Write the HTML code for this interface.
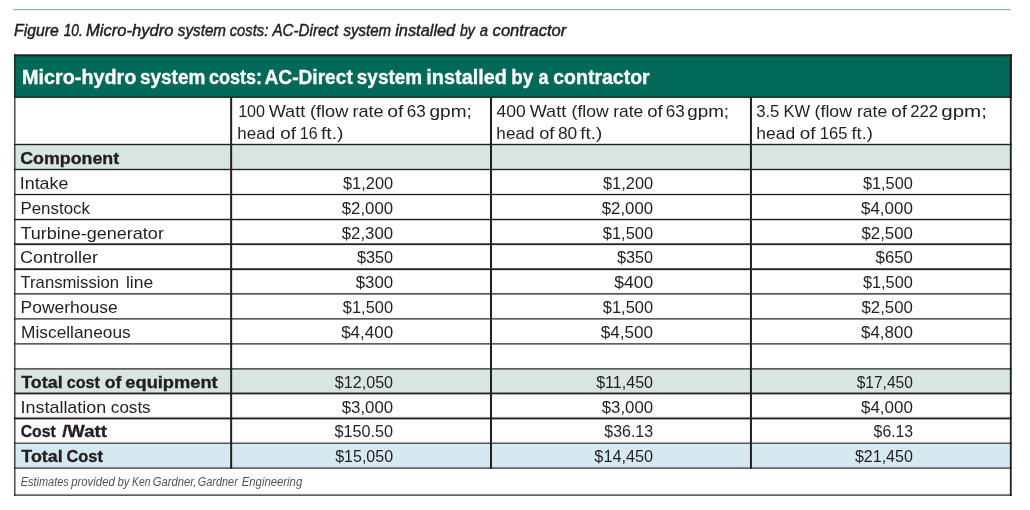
<!DOCTYPE html>
<html lang="en">
<head>
<meta charset="utf-8">
<title>Figure 10. Micro-hydro system costs: AC-Direct system installed by a contractor</title>
<style>
html,body{margin:0;padding:0;background:#fff;}
body{width:1030px;height:510px;overflow:hidden;}
svg{display:block;position:absolute;left:0;top:0;}
text{font-family:"Liberation Sans",Arial,sans-serif;font-size:17px;fill:#231f20;white-space:pre;}
text.b{font-weight:bold;}
text.i{font-style:italic;}
</style>
</head>
<body>
<svg width="1030" height="510" viewBox="0 0 1030 510">
<rect x="13.4" y="9" width="997.2" height="1.15" fill="#7db3a8"/>
<rect x="14" y="55" width="998" height="42.2" fill="#006957"/>
<rect x="14" y="144.5" width="998" height="25.00" fill="#d8e6e1"/>
<rect x="14" y="368.9" width="998" height="24.55" fill="#d8e6e1"/>
<rect x="14" y="443.15" width="998" height="24.95" fill="#d6e8f0"/>
<rect x="14" y="54" width="998" height="1" fill="#231f20" fill-opacity="0.7"/>
<rect x="14" y="55" width="998" height="1" fill="#231f20" fill-opacity="1"/>
<rect x="14" y="56" width="998" height="1" fill="#231f20" fill-opacity="0.3"/>
<rect x="14" y="96" width="998" height="1" fill="#231f20" fill-opacity="0.5"/>
<rect x="14" y="97" width="998" height="1" fill="#231f20" fill-opacity="0.9"/>
<rect x="14" y="98" width="998" height="1" fill="#231f20" fill-opacity="0.05"/>
<rect x="14" y="143" width="998" height="1" fill="#231f20" fill-opacity="0.2"/>
<rect x="14" y="144" width="998" height="1" fill="#231f20" fill-opacity="1"/>
<rect x="14" y="145" width="998" height="1" fill="#231f20" fill-opacity="0.2"/>
<rect x="14" y="168" width="998" height="1" fill="#231f20" fill-opacity="0.2"/>
<rect x="14" y="169" width="998" height="1" fill="#231f20" fill-opacity="1"/>
<rect x="14" y="170" width="998" height="1" fill="#231f20" fill-opacity="0.2"/>
<rect x="14" y="193" width="998" height="1" fill="#231f20" fill-opacity="0.15"/>
<rect x="14" y="194" width="998" height="1" fill="#231f20" fill-opacity="1"/>
<rect x="14" y="195" width="998" height="1" fill="#231f20" fill-opacity="0.17"/>
<rect x="14" y="218" width="998" height="1" fill="#231f20" fill-opacity="0.2"/>
<rect x="14" y="219" width="998" height="1" fill="#231f20" fill-opacity="1"/>
<rect x="14" y="220" width="998" height="1" fill="#231f20" fill-opacity="0.25"/>
<rect x="14" y="243" width="998" height="1" fill="#231f20" fill-opacity="0.7"/>
<rect x="14" y="244" width="998" height="1" fill="#231f20" fill-opacity="1"/>
<rect x="14" y="245" width="998" height="1" fill="#231f20" fill-opacity="0.1"/>
<rect x="14" y="268" width="998" height="1" fill="#231f20" fill-opacity="0.75"/>
<rect x="14" y="269" width="998" height="1" fill="#231f20" fill-opacity="1"/>
<rect x="14" y="270" width="998" height="1" fill="#231f20" fill-opacity="0.15"/>
<rect x="14" y="292" width="998" height="1" fill="#231f20" fill-opacity="0.05"/>
<rect x="14" y="293" width="998" height="1" fill="#231f20" fill-opacity="0.72"/>
<rect x="14" y="294" width="998" height="1" fill="#231f20" fill-opacity="0.55"/>
<rect x="14" y="317" width="998" height="1" fill="#231f20" fill-opacity="0.03"/>
<rect x="14" y="318" width="998" height="1" fill="#231f20" fill-opacity="0.72"/>
<rect x="14" y="319" width="998" height="1" fill="#231f20" fill-opacity="0.5"/>
<rect x="14" y="343" width="998" height="1" fill="#231f20" fill-opacity="0.72"/>
<rect x="14" y="344" width="998" height="1" fill="#231f20" fill-opacity="0.5"/>
<rect x="14" y="367" width="998" height="1" fill="#231f20" fill-opacity="0.03"/>
<rect x="14" y="368" width="998" height="1" fill="#231f20" fill-opacity="0.72"/>
<rect x="14" y="369" width="998" height="1" fill="#231f20" fill-opacity="0.5"/>
<rect x="14" y="392" width="998" height="1" fill="#231f20" fill-opacity="0.45"/>
<rect x="14" y="393" width="998" height="1" fill="#231f20" fill-opacity="1"/>
<rect x="14" y="394" width="998" height="1" fill="#231f20" fill-opacity="0.35"/>
<rect x="14" y="416" width="998" height="1" fill="#231f20" fill-opacity="0.05"/>
<rect x="14" y="417" width="998" height="1" fill="#231f20" fill-opacity="0.5"/>
<rect x="14" y="418" width="998" height="1" fill="#231f20" fill-opacity="1"/>
<rect x="14" y="419" width="998" height="1" fill="#231f20" fill-opacity="0.4"/>
<rect x="14" y="442" width="998" height="1" fill="#231f20" fill-opacity="0.4"/>
<rect x="14" y="443" width="998" height="1" fill="#231f20" fill-opacity="0.72"/>
<rect x="14" y="466" width="998" height="1" fill="#231f20" fill-opacity="0.05"/>
<rect x="14" y="467" width="998" height="1" fill="#231f20" fill-opacity="0.45"/>
<rect x="14" y="468" width="998" height="1" fill="#231f20" fill-opacity="0.7"/>
<rect x="14" y="493" width="998" height="1" fill="#231f20" fill-opacity="0.05"/>
<rect x="14" y="494" width="998" height="1" fill="#231f20" fill-opacity="0.5"/>
<rect x="14" y="495" width="998" height="1" fill="#231f20" fill-opacity="0.72"/>
<line x1="231.15" y1="97" x2="231.15" y2="468.6" stroke="#231f20" stroke-width="2"/>
<line x1="491.0" y1="97" x2="491.0" y2="468.6" stroke="#231f20" stroke-width="2"/>
<line x1="750.95" y1="97" x2="750.95" y2="468.6" stroke="#231f20" stroke-width="2"/>
<rect x="13" y="54" width="1" height="442" fill="#231f20" fill-opacity="0.05"/>
<rect x="14" y="54" width="1" height="442" fill="#231f20" fill-opacity="0.75"/>
<rect x="15" y="54" width="1" height="442" fill="#231f20" fill-opacity="0.45"/>
<rect x="1009" y="54" width="1" height="442" fill="#231f20" fill-opacity="0.15"/>
<rect x="1010" y="54" width="1" height="442" fill="#231f20" fill-opacity="1"/>
<rect x="1011" y="54" width="1" height="442" fill="#231f20" fill-opacity="0.7"/>
<text y="35.80" class="i" style="font-size:16px;stroke:#231f20;stroke-width:0.45px;"><tspan x="14.04" textLength="44.71" lengthAdjust="spacingAndGlyphs">Figure</tspan> <tspan x="63.74" textLength="19.06" lengthAdjust="spacingAndGlyphs">10.</tspan> <tspan x="86.10" textLength="87.30" lengthAdjust="spacingAndGlyphs">Micro-hydro</tspan> <tspan x="177.80" textLength="48.26" lengthAdjust="spacingAndGlyphs">system</tspan> <tspan x="229.75" textLength="38.51" lengthAdjust="spacingAndGlyphs">costs:</tspan> <tspan x="272.45" textLength="65.78" lengthAdjust="spacingAndGlyphs">AC-Direct</tspan> <tspan x="343.45" textLength="47.61" lengthAdjust="spacingAndGlyphs">system</tspan> <tspan x="395.20" textLength="60.03" lengthAdjust="spacingAndGlyphs">installed</tspan> <tspan x="460.00" textLength="14.82" lengthAdjust="spacingAndGlyphs">by</tspan> <tspan x="479.73" textLength="8.27" lengthAdjust="spacingAndGlyphs">a</tspan> <tspan x="492.60" textLength="73.75" lengthAdjust="spacingAndGlyphs">contractor</tspan></text>
<text y="83.80" class="b" style="font-size:20px;fill:#fff;stroke:#fff;stroke-width:0.35px;"><tspan x="22.05" textLength="114.27" lengthAdjust="spacingAndGlyphs">Micro-hydro</tspan> <tspan x="139.97" textLength="65.39" lengthAdjust="spacingAndGlyphs">system</tspan> <tspan x="208.98" textLength="53.08" lengthAdjust="spacingAndGlyphs">costs:</tspan> <tspan x="264.54" textLength="88.25" lengthAdjust="spacingAndGlyphs">AC-Direct</tspan> <tspan x="356.83" textLength="65.23" lengthAdjust="spacingAndGlyphs">system</tspan> <tspan x="426.35" textLength="80.61" lengthAdjust="spacingAndGlyphs">installed</tspan> <tspan x="511.31" textLength="21.93" lengthAdjust="spacingAndGlyphs">by</tspan> <tspan x="538.42" textLength="10.00" lengthAdjust="spacingAndGlyphs">a</tspan> <tspan x="553.29" textLength="96.41" lengthAdjust="spacingAndGlyphs">contractor</tspan></text>
<text y="117.00" style="stroke:#fff;stroke-width:0px;paint-order:fill stroke;"><tspan x="238.14" textLength="26.89" lengthAdjust="spacingAndGlyphs">100</tspan> <tspan x="268.70" textLength="36.52" lengthAdjust="spacingAndGlyphs">Watt</tspan> <tspan x="309.93" textLength="38.36" lengthAdjust="spacingAndGlyphs">(flow</tspan> <tspan x="352.48" textLength="31.21" lengthAdjust="spacingAndGlyphs">rate</tspan> <tspan x="387.19" textLength="16.22" lengthAdjust="spacingAndGlyphs">of</tspan> <tspan x="406.70" textLength="18.98" lengthAdjust="spacingAndGlyphs">63</tspan> <tspan x="429.52" textLength="42.22" lengthAdjust="spacingAndGlyphs">gpm;</tspan></text>
<text y="139.00" style="stroke:#fff;stroke-width:0px;paint-order:fill stroke;"><tspan x="237.35" textLength="37.72" lengthAdjust="spacingAndGlyphs">head</tspan> <tspan x="280.19" textLength="15.73" lengthAdjust="spacingAndGlyphs">of</tspan> <tspan x="299.81" textLength="17.68" lengthAdjust="spacingAndGlyphs">16</tspan> <tspan x="320.94" textLength="22.53" lengthAdjust="spacingAndGlyphs">ft.)</tspan></text>
<text y="117.00" style="stroke:#fff;stroke-width:0px;paint-order:fill stroke;"><tspan x="496.49" textLength="29.24" lengthAdjust="spacingAndGlyphs">400</tspan> <tspan x="529.74" textLength="36.47" lengthAdjust="spacingAndGlyphs">Watt</tspan> <tspan x="571.61" textLength="37.06" lengthAdjust="spacingAndGlyphs">(flow</tspan> <tspan x="613.17" textLength="30.05" lengthAdjust="spacingAndGlyphs">rate</tspan> <tspan x="647.16" textLength="15.51" lengthAdjust="spacingAndGlyphs">of</tspan> <tspan x="665.70" textLength="19.02" lengthAdjust="spacingAndGlyphs">63</tspan> <tspan x="687.22" textLength="41.86" lengthAdjust="spacingAndGlyphs">gpm;</tspan></text>
<text y="139.00" style="stroke:#fff;stroke-width:0px;paint-order:fill stroke;"><tspan x="496.39" textLength="38.03" lengthAdjust="spacingAndGlyphs">head</tspan> <tspan x="539.16" textLength="15.17" lengthAdjust="spacingAndGlyphs">of</tspan> <tspan x="557.90" textLength="19.33" lengthAdjust="spacingAndGlyphs">80</tspan> <tspan x="580.39" textLength="21.85" lengthAdjust="spacingAndGlyphs">ft.)</tspan></text>
<text y="117.00" style="stroke:#fff;stroke-width:0px;paint-order:fill stroke;"><tspan x="756.21" textLength="23.16" lengthAdjust="spacingAndGlyphs">3.5</tspan> <tspan x="783.47" textLength="26.57" lengthAdjust="spacingAndGlyphs">KW</tspan> <tspan x="814.60" textLength="37.41" lengthAdjust="spacingAndGlyphs">(flow</tspan> <tspan x="856.97" textLength="30.25" lengthAdjust="spacingAndGlyphs">rate</tspan> <tspan x="891.20" textLength="15.76" lengthAdjust="spacingAndGlyphs">of</tspan> <tspan x="910.26" textLength="27.91" lengthAdjust="spacingAndGlyphs">222</tspan> <tspan x="941.26" textLength="45.66" lengthAdjust="spacingAndGlyphs">gpm;</tspan></text>
<text y="139.00" style="stroke:#fff;stroke-width:0px;paint-order:fill stroke;"><tspan x="756.37" textLength="38.71" lengthAdjust="spacingAndGlyphs">head</tspan> <tspan x="799.85" textLength="15.76" lengthAdjust="spacingAndGlyphs">of</tspan> <tspan x="819.77" textLength="27.63" lengthAdjust="spacingAndGlyphs">165</tspan> <tspan x="851.54" textLength="21.38" lengthAdjust="spacingAndGlyphs">ft.)</tspan></text>
<text y="164.00" class="b" style="stroke:#231f20;stroke-width:0.35px;"><tspan x="20.19" textLength="98.96" lengthAdjust="spacingAndGlyphs">Component</tspan></text>
<text y="189.00" style="stroke:#fff;stroke-width:0px;paint-order:fill stroke;"><tspan x="19.84" textLength="48.50" lengthAdjust="spacingAndGlyphs">Intake</tspan></text>
<text y="214.00" style="stroke:#fff;stroke-width:0px;paint-order:fill stroke;"><tspan x="20.45" textLength="69.56" lengthAdjust="spacingAndGlyphs">Penstock</tspan></text>
<text y="239.00" style="stroke:#fff;stroke-width:0px;paint-order:fill stroke;"><tspan x="20.45" textLength="143.45" lengthAdjust="spacingAndGlyphs">Turbine-generator</tspan></text>
<text y="263.00" style="stroke:#fff;stroke-width:0px;paint-order:fill stroke;"><tspan x="19.93" textLength="77.98" lengthAdjust="spacingAndGlyphs">Controller</tspan></text>
<text y="288.00" style="stroke:#fff;stroke-width:0px;paint-order:fill stroke;"><tspan x="20.50" textLength="98.46" lengthAdjust="spacingAndGlyphs">Transmission</tspan> <tspan x="125.97" textLength="27.25" lengthAdjust="spacingAndGlyphs">line</tspan></text>
<text y="313.00" style="stroke:#fff;stroke-width:0px;paint-order:fill stroke;"><tspan x="20.57" textLength="97.10" lengthAdjust="spacingAndGlyphs">Powerhouse</tspan></text>
<text y="338.00" style="stroke:#fff;stroke-width:0px;paint-order:fill stroke;"><tspan x="21.13" textLength="109.53" lengthAdjust="spacingAndGlyphs">Miscellaneous</tspan></text>
<text y="388.00" class="b" style="stroke:#231f20;stroke-width:0.35px;"><tspan x="21.30" textLength="41.31" lengthAdjust="spacingAndGlyphs">Total</tspan> <tspan x="66.79" textLength="33.10" lengthAdjust="spacingAndGlyphs">cost</tspan> <tspan x="104.67" textLength="16.59" lengthAdjust="spacingAndGlyphs">of</tspan> <tspan x="125.34" textLength="92.30" lengthAdjust="spacingAndGlyphs">equipment</tspan></text>
<text y="413.00" style="stroke:#fff;stroke-width:0px;paint-order:fill stroke;"><tspan x="20.49" textLength="85.80" lengthAdjust="spacingAndGlyphs">Installation</tspan> <tspan x="110.89" textLength="39.77" lengthAdjust="spacingAndGlyphs">costs</tspan></text>
<text y="437.00" class="b" style="stroke:#231f20;stroke-width:0.35px;"><tspan x="20.69" textLength="35.06" lengthAdjust="spacingAndGlyphs">Cost</tspan> <tspan x="62.20" textLength="44.64" lengthAdjust="spacingAndGlyphs">/Watt</tspan></text>
<text y="462.00" class="b" style="stroke:#231f20;stroke-width:0.35px;"><tspan x="21.30" textLength="41.36" lengthAdjust="spacingAndGlyphs">Total</tspan> <tspan x="66.49" textLength="36.39" lengthAdjust="spacingAndGlyphs">Cost</tspan></text>
<text x="343.00" y="189.00" textLength="50.10" lengthAdjust="spacingAndGlyphs" style="stroke:#fff;stroke-width:0px;paint-order:fill stroke;">$1,200</text>
<text x="603.00" y="189.00" textLength="50.10" lengthAdjust="spacingAndGlyphs" style="stroke:#fff;stroke-width:0px;paint-order:fill stroke;">$1,200</text>
<text x="862.90" y="189.00" textLength="49.99" lengthAdjust="spacingAndGlyphs" style="stroke:#fff;stroke-width:0px;paint-order:fill stroke;">$1,500</text>
<text x="341.70" y="214.00" textLength="51.41" lengthAdjust="spacingAndGlyphs" style="stroke:#fff;stroke-width:0px;paint-order:fill stroke;">$2,000</text>
<text x="601.70" y="214.00" textLength="51.41" lengthAdjust="spacingAndGlyphs" style="stroke:#fff;stroke-width:0px;paint-order:fill stroke;">$2,000</text>
<text x="860.95" y="214.00" textLength="51.96" lengthAdjust="spacingAndGlyphs" style="stroke:#fff;stroke-width:0px;paint-order:fill stroke;">$4,000</text>
<text x="341.70" y="239.00" textLength="51.41" lengthAdjust="spacingAndGlyphs" style="stroke:#fff;stroke-width:0px;paint-order:fill stroke;">$2,300</text>
<text x="602.85" y="239.00" textLength="50.24" lengthAdjust="spacingAndGlyphs" style="stroke:#fff;stroke-width:0px;paint-order:fill stroke;">$1,500</text>
<text x="861.45" y="239.00" textLength="51.45" lengthAdjust="spacingAndGlyphs" style="stroke:#fff;stroke-width:0px;paint-order:fill stroke;">$2,500</text>
<text x="356.95" y="263.00" textLength="36.14" lengthAdjust="spacingAndGlyphs" style="stroke:#fff;stroke-width:0px;paint-order:fill stroke;">$350</text>
<text x="616.95" y="263.00" textLength="36.14" lengthAdjust="spacingAndGlyphs" style="stroke:#fff;stroke-width:0px;paint-order:fill stroke;">$350</text>
<text x="875.59" y="263.00" textLength="37.31" lengthAdjust="spacingAndGlyphs" style="stroke:#fff;stroke-width:0px;paint-order:fill stroke;">$650</text>
<text x="355.69" y="288.00" textLength="37.41" lengthAdjust="spacingAndGlyphs" style="stroke:#fff;stroke-width:0px;paint-order:fill stroke;">$300</text>
<text x="614.34" y="288.00" textLength="38.78" lengthAdjust="spacingAndGlyphs" style="stroke:#fff;stroke-width:0px;paint-order:fill stroke;">$400</text>
<text x="862.90" y="288.00" textLength="49.99" lengthAdjust="spacingAndGlyphs" style="stroke:#fff;stroke-width:0px;paint-order:fill stroke;">$1,500</text>
<text x="342.85" y="313.00" textLength="50.24" lengthAdjust="spacingAndGlyphs" style="stroke:#fff;stroke-width:0px;paint-order:fill stroke;">$1,500</text>
<text x="602.85" y="313.00" textLength="50.24" lengthAdjust="spacingAndGlyphs" style="stroke:#fff;stroke-width:0px;paint-order:fill stroke;">$1,500</text>
<text x="861.45" y="313.00" textLength="51.45" lengthAdjust="spacingAndGlyphs" style="stroke:#fff;stroke-width:0px;paint-order:fill stroke;">$2,500</text>
<text x="341.15" y="338.00" textLength="51.96" lengthAdjust="spacingAndGlyphs" style="stroke:#fff;stroke-width:0px;paint-order:fill stroke;">$4,400</text>
<text x="600.65" y="338.00" textLength="52.46" lengthAdjust="spacingAndGlyphs" style="stroke:#fff;stroke-width:0px;paint-order:fill stroke;">$4,500</text>
<text x="860.95" y="338.00" textLength="51.96" lengthAdjust="spacingAndGlyphs" style="stroke:#fff;stroke-width:0px;paint-order:fill stroke;">$4,800</text>
<text x="334.85" y="388.00" textLength="58.24" lengthAdjust="spacingAndGlyphs" style="stroke:#d8e6e1;stroke-width:0px;paint-order:fill stroke;">$12,050</text>
<text x="596.15" y="388.00" textLength="56.93" lengthAdjust="spacingAndGlyphs" style="stroke:#d8e6e1;stroke-width:0px;paint-order:fill stroke;">$11,450</text>
<text x="856.70" y="388.00" textLength="56.17" lengthAdjust="spacingAndGlyphs" style="stroke:#d8e6e1;stroke-width:0px;paint-order:fill stroke;">$17,450</text>
<text x="341.70" y="413.00" textLength="51.41" lengthAdjust="spacingAndGlyphs" style="stroke:#fff;stroke-width:0px;paint-order:fill stroke;">$3,000</text>
<text x="601.70" y="413.00" textLength="51.41" lengthAdjust="spacingAndGlyphs" style="stroke:#fff;stroke-width:0px;paint-order:fill stroke;">$3,000</text>
<text x="860.95" y="413.00" textLength="51.96" lengthAdjust="spacingAndGlyphs" style="stroke:#fff;stroke-width:0px;paint-order:fill stroke;">$4,000</text>
<text x="334.45" y="437.00" textLength="58.64" lengthAdjust="spacingAndGlyphs" style="stroke:#fff;stroke-width:0px;paint-order:fill stroke;">$150.50</text>
<text x="604.35" y="437.00" textLength="48.73" lengthAdjust="spacingAndGlyphs" style="stroke:#fff;stroke-width:0px;paint-order:fill stroke;">$36.13</text>
<text x="873.60" y="437.00" textLength="39.53" lengthAdjust="spacingAndGlyphs" style="stroke:#fff;stroke-width:0px;paint-order:fill stroke;">$6.13</text>
<text x="335.15" y="462.00" textLength="57.93" lengthAdjust="spacingAndGlyphs" style="stroke:#d6e8f0;stroke-width:0px;paint-order:fill stroke;">$15,050</text>
<text x="594.35" y="462.00" textLength="58.74" lengthAdjust="spacingAndGlyphs" style="stroke:#d6e8f0;stroke-width:0px;paint-order:fill stroke;">$14,450</text>
<text x="854.90" y="462.00" textLength="57.98" lengthAdjust="spacingAndGlyphs" style="stroke:#d6e8f0;stroke-width:0px;paint-order:fill stroke;">$21,450</text>
<text y="486.00" class="i" style="font-size:12.5px;fill:#55514f;"><tspan x="20.75" textLength="48.07" lengthAdjust="spacingAndGlyphs">Estimates</tspan> <tspan x="71.13" textLength="43.69" lengthAdjust="spacingAndGlyphs">provided</tspan> <tspan x="117.39" textLength="11.89" lengthAdjust="spacingAndGlyphs">by</tspan> <tspan x="132.08" textLength="18.40" lengthAdjust="spacingAndGlyphs">Ken</tspan> <tspan x="152.83" textLength="43.64" lengthAdjust="spacingAndGlyphs">Gardner,</tspan> <tspan x="197.83" textLength="39.95" lengthAdjust="spacingAndGlyphs">Gardner</tspan> <tspan x="241.75" textLength="60.46" lengthAdjust="spacingAndGlyphs">Engineering</tspan></text>
</svg>
</body>
</html>
